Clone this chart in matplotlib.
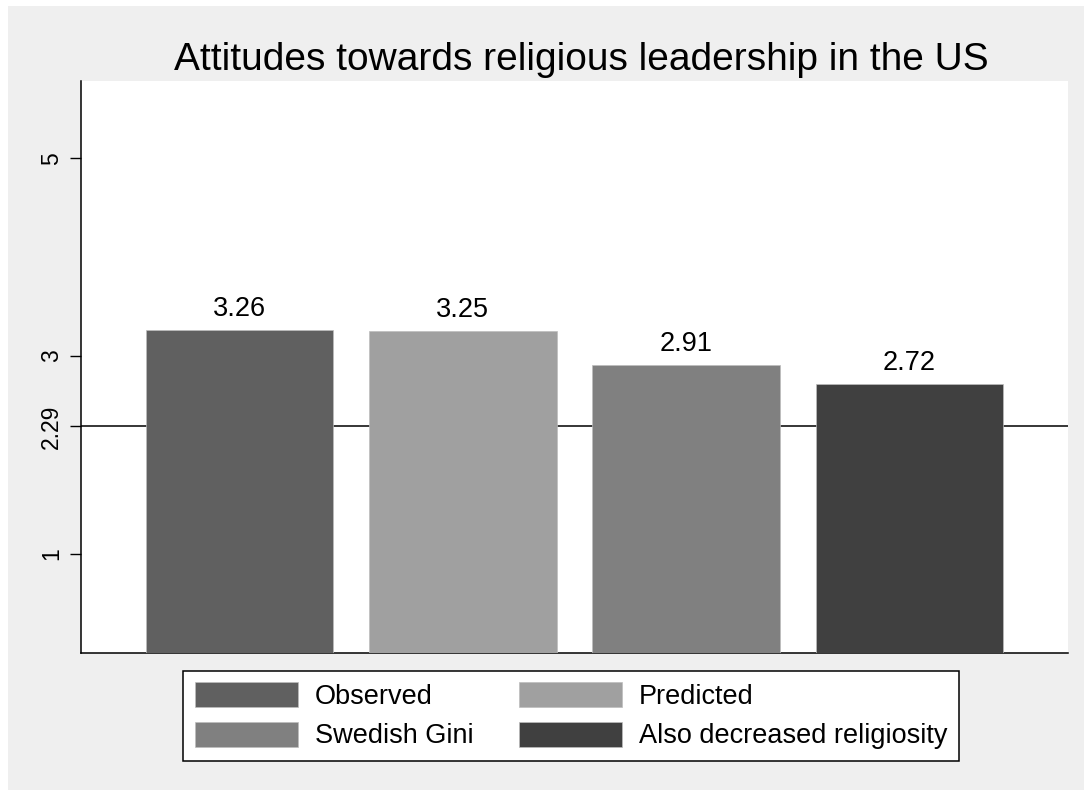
import matplotlib
matplotlib.use("Agg")
import matplotlib.pyplot as plt
from matplotlib.patches import Rectangle

# data
labels = ["Observed", "Predicted", "Swedish Gini", "Also decreased religiosity"]
values = [3.26, 3.25, 2.91, 2.72]
colors = ["#606060", "#a0a0a0", "#808080", "#404040"]
ref_value = 2.29
ytick_vals = [1, 2.29, 3, 5]
ytick_labels = ["1", "2.29", "3", "5"]

plt.rcParams["font.family"] = ["Liberation Sans", "DejaVu Sans"]

W, H = 1084, 790
fig = plt.figure(figsize=(W / 100, H / 100), dpi=100, facecolor="white")

# light gray graph region (small white margin top/left)
fig.patches.append(Rectangle((8 / W, 0), 1 - 8 / W, 1 - 6 / H,
                             transform=fig.transFigure, facecolor="#efefef",
                             edgecolor="none", zorder=-10))

ax = fig.add_axes([81 / W, (H - 653) / H, 987 / W, 572 / H])
ax.set_facecolor("white")

x = range(len(values))
bars = ax.bar(x, values, width=0.84, color=colors, edgecolor="#bdbdbd",
              linewidth=0.5, zorder=3)
ax.axhline(ref_value, color="black", linewidth=1.1, zorder=2)

for xi, v in zip(x, values):
    ax.annotate(f"{v:.2f}", (xi, v), xytext=(0, 10), textcoords="offset points",
                ha="center", va="baseline", fontsize=19.5, zorder=4)

ax.set_xlim(-0.711, 3.711)
ax.set_ylim(0, 5.78)
ax.set_xticks([])
ax.set_yticks(ytick_vals)
ax.set_yticklabels(ytick_labels, rotation=90, va="center", fontsize=16.5)
ax.tick_params(axis="y", length=8, width=1.0, pad=5)

for s in ["top", "right"]:
    ax.spines[s].set_visible(False)
for s in ["left", "bottom"]:
    ax.spines[s].set_linewidth(1.1)

fig.text(581 / W, (H - 70) / H, "Attitudes towards religious leadership in the US",
         ha="center", va="baseline", fontsize=28)

# legend fills row by row in the reference
order = [0, 2, 1, 3]
leg = fig.legend([bars[i] for i in order], [labels[i] for i in order], ncol=2,
                 loc="upper center", bbox_to_anchor=(571 / W, (H - 671) / H),
                 fontsize=19.5, frameon=True, fancybox=False, framealpha=1,
                 handlelength=3.8, handleheight=1.05, labelspacing=0.42,
                 handletextpad=0.63, columnspacing=1.67, borderpad=0.42,
                 borderaxespad=0)
leg.get_frame().set_edgecolor("black")
leg.get_frame().set_linewidth(1.1)
leg.get_frame().set_facecolor("white")

fig.savefig("out.png", dpi=100, facecolor=fig.get_facecolor())
